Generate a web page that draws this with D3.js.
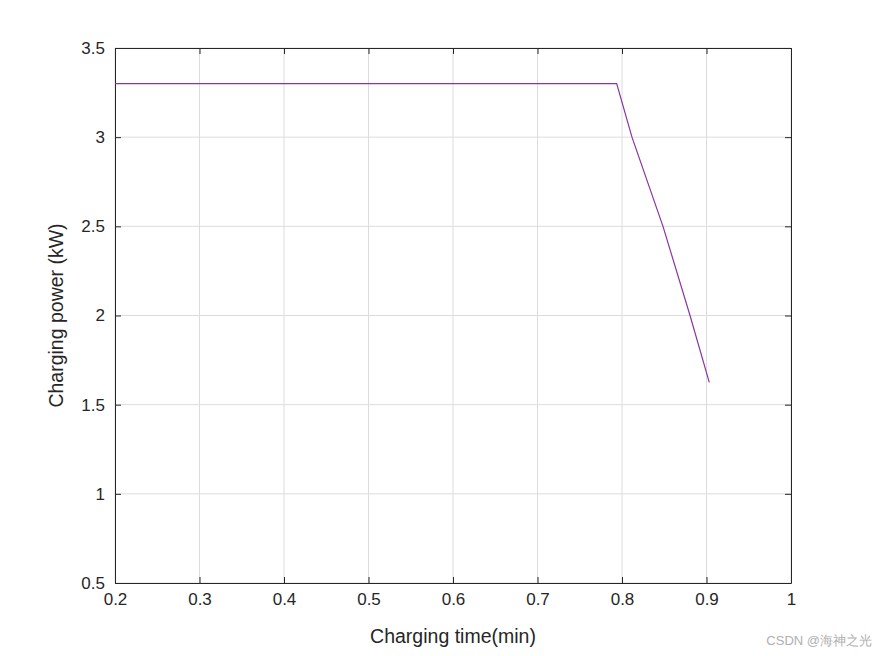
<!DOCTYPE html>
<html>
<head>
<meta charset="utf-8">
<script src="https://cdn.jsdelivr.net/npm/d3@7"></script>
<style>
  body { margin: 0; background: #fff; }
  text { font-family: Arial, "Liberation Sans", sans-serif; }
</style>
</head>
<body>
<svg id="chart" width="875" height="656"></svg>
<script>
// Data.
var timeValues = [0.2, 0.7937, 0.8118, 0.8485, 0.8805, 0.9033];
var powerValues = [3.3, 3.3, 3.0, 2.5, 2.0, 1.625];
var xTicks = [0.2, 0.3, 0.4, 0.5, 0.6, 0.7, 0.8, 0.9, 1];
var yTicks = [0.5, 1, 1.5, 2, 2.5, 3, 3.5];

var LEFT = 115, RIGHT = 791, TOP = 48, BOTTOM = 583;

var svg = d3.select('#chart');
var x = d3.scaleLinear().domain([0.2, 1]).range([LEFT, RIGHT]);
var y = d3.scaleLinear().domain([0.5, 3.5]).range([BOTTOM, TOP]);

// Grid
svg.append('g').selectAll('line').data(xTicks).enter().append('line')
  .attr('x1', function(d){return x(d);}).attr('x2', function(d){return x(d);})
  .attr('y1', TOP).attr('y2', BOTTOM)
  .attr('stroke', '#dcdcdc').attr('stroke-width', 1);
svg.append('g').selectAll('line').data(yTicks).enter().append('line')
  .attr('y1', function(d){return y(d);}).attr('y2', function(d){return y(d);})
  .attr('x1', LEFT).attr('x2', RIGHT)
  .attr('stroke', '#dcdcdc').attr('stroke-width', 1);

// Axes
var fmt = function(d){ return String(d); };
var xAxis = svg.append('g').attr('transform', 'translate(0,' + BOTTOM + ')')
  .call(d3.axisBottom(x).tickValues(xTicks).tickFormat(fmt).tickSizeInner(-6).tickSizeOuter(0).tickPadding(10));
var xTop = svg.append('g').attr('transform', 'translate(0,' + TOP + ')')
  .call(d3.axisTop(x).tickValues(xTicks).tickFormat('').tickSizeInner(-6).tickSizeOuter(0));
var yAxis = svg.append('g').attr('transform', 'translate(' + LEFT + ',0)')
  .call(d3.axisLeft(y).tickValues(yTicks).tickFormat(fmt).tickSizeInner(-6).tickSizeOuter(0).tickPadding(10));
var yRight = svg.append('g').attr('transform', 'translate(' + RIGHT + ',0)')
  .call(d3.axisRight(y).tickValues(yTicks).tickFormat('').tickSizeInner(-6).tickSizeOuter(0));

[xAxis, xTop, yAxis, yRight].forEach(function(g){
  g.selectAll('path, line').attr('stroke', '#262626');
  g.selectAll('text').attr('fill', '#262626').attr('font-size', 17);
});

// Curve
var line = d3.line()
  .x(function(d){return x(d[0]);})
  .y(function(d){return y(d[1]);});
svg.append('path')
  .datum(timeValues.map(function(t, i){return [t, powerValues[i]];}))
  .attr('d', line)
  .attr('fill', 'none')
  .attr('stroke', '#8A35A0')
  .attr('stroke-width', 1.2);

// Labels
svg.append('text').attr('x', (LEFT + RIGHT) / 2).attr('y', 643)
  .attr('text-anchor', 'middle').attr('font-size', 19.5).attr('fill', '#262626')
  .text('Charging time(min)');
svg.append('text').attr('transform', 'translate(63,' + ((TOP + BOTTOM) / 2) + ') rotate(-90)')
  .attr('text-anchor', 'middle').attr('font-size', 19.5).attr('fill', '#262626')
  .text('Charging power (kW)');
svg.append('text').attr('x', 872).attr('y', 645)
  .attr('text-anchor', 'end').attr('font-size', 13).attr('fill', '#b0b0b0')
  .text('CSDN @海神之光');
</script>
</body>
</html>
